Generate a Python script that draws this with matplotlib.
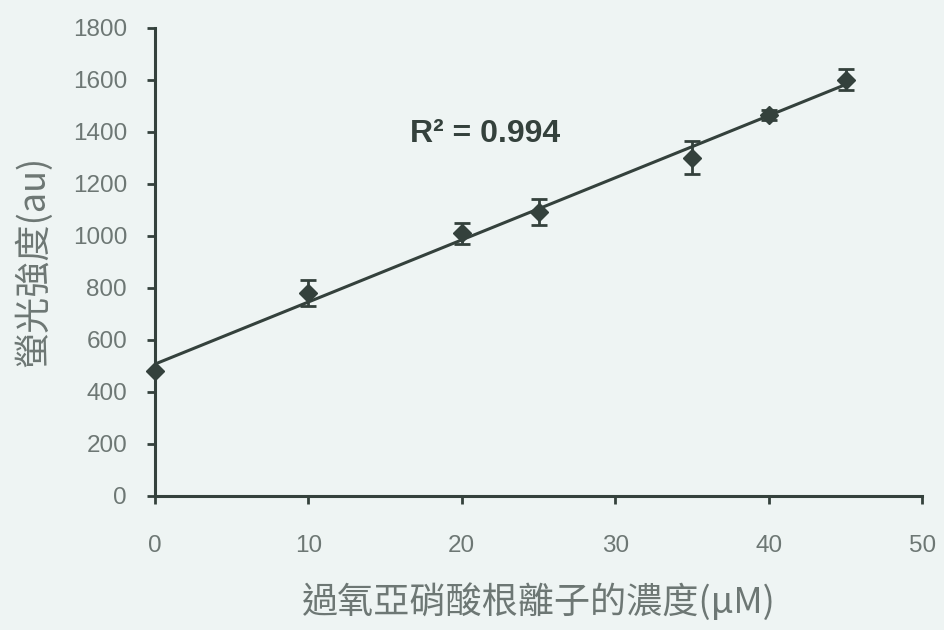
import numpy as np
import matplotlib
matplotlib.use("Agg")
import matplotlib.pyplot as plt

# concentration (uM) vs fluorescence intensity (au)
conc = [0, 10, 20, 25, 35, 40, 45]
intensity = [480, 780, 1010, 1090, 1300, 1465, 1600]
err = [0, 50, 40, 50, 63, 20, 40]
r2_label = "R² = 0.994"

x_ticks = [0, 10, 20, 30, 40, 50]
y_ticks = [0, 200, 400, 600, 800, 1000, 1200, 1400, 1600, 1800]

INK = "#34413c"
TICK_TXT = "#6d7774"
BG = "#eef4f3"

plt.rcParams["font.family"] = ["Liberation Sans", "Noto Sans CJK TC", "DejaVu Sans"]

fig = plt.figure(figsize=(9.44, 6.3), dpi=100, facecolor=BG)
ax = fig.add_axes([0.164, 0.213, 0.813, 0.743])
ax.set_facecolor(BG)

# linear fit
slope, icpt = np.polyfit(conc, intensity, 1)
xs = np.array([conc[0], conc[-1]])
ax.plot(xs, slope * xs + icpt, color=INK, lw=2.2, zorder=2)

eb = ax.errorbar(conc, intensity, yerr=err, fmt="D", color=INK, ms=9,
                 ecolor=INK, elinewidth=2, capsize=6, capthick=2, zorder=3)
eb[0].set_clip_on(False)

ax.text(16.6, 1390, r2_label, fontsize=23, fontweight="bold",
        color=INK, ha="left", va="center")

ax.set_xlim(0, 50)
ax.set_ylim(0, 1800)
ax.set_xticks(x_ticks)
ax.set_yticks(y_ticks)

for s in ["top", "right"]:
    ax.spines[s].set_visible(False)
for s in ["left", "bottom"]:
    ax.spines[s].set_color(INK)
    ax.spines[s].set_linewidth(2.2)

ax.tick_params(axis="both", colors=INK, width=2, length=6,
               labelsize=17.5, labelcolor=TICK_TXT)
ax.tick_params(axis="y", pad=14)
ax.tick_params(axis="x", pad=22)

ax.set_xlabel("過氧亞硝酸根離子的濃度(μM)", fontsize=26, color=TICK_TXT,
              family=["Noto Sans CJK TC", "DejaVu Sans"], labelpad=19)
ax.set_ylabel("螢光強度(au)", fontsize=26, color=TICK_TXT,
              family=["Noto Sans CJK TC", "DejaVu Sans"], labelpad=15)

fig.savefig("out.png", dpi=100, facecolor=BG)
